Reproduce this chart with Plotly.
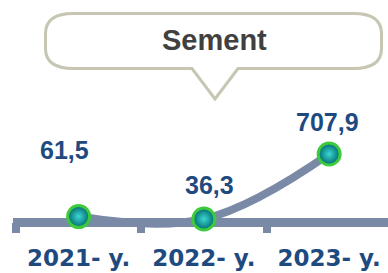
import plotly.graph_objects as go

categories = ["2021- y.", "2022- y.", "2023- y."]
values = [61.5, 36.3, 707.9]
value_labels = ["61,5", "36,3", "707,9"]
title_text = "Sement"

W, H = 388, 273
L_M, R_M, T_M, B_M = 13, 0, 100, 23

LINE_COLOR = "#7A8AA6"
TEXT_BLUE = "#1F4A80"

fig = go.Figure()

fig.add_trace(go.Scatter(
    x=categories, y=values, mode="lines",
    line=dict(color=LINE_COLOR, width=8, shape="spline", smoothing=1.1),
    hoverinfo="skip", showlegend=False,
))
fig.add_trace(go.Scatter(
    x=categories, y=values, mode="markers",
    marker=dict(size=22, color="#00686F",
                gradient=dict(type="radial", color="#3CD8D2"),
                line=dict(color="#3DCB3D", width=3)),
    cliponaxis=False, hoverinfo="skip", showlegend=False,
))

label_dx = [-14, 6, -2]
label_dy = [67, 34, 32]
for c, v, t, dx, dy in zip(categories, values, value_labels, label_dx, label_dy):
    fig.add_annotation(x=c, y=v, text=t, showarrow=False, xshift=dx, yshift=dy,
                       xanchor="center", yanchor="middle",
                       font=dict(family="Liberation Sans, Arial",
                                 size=25, color=TEXT_BLUE, weight="bold"))

def px(xp):
    return (xp - L_M) / (W - L_M - R_M)

def py(yp):
    return (H - B_M - yp) / (H - T_M - B_M)

x0, x1, y0, y1 = 45.5, 381.5, 13.5, 68.5
rx, ry = 28, 20
tipx, tipy, hw = 215, 99, 23
pts = [
    ("M", [(x0 + rx, y0)]),
    ("L", [(x1 - rx, y0)]),
    ("Q", [(x1, y0), (x1, y0 + ry)]),
    ("L", [(x1, y1 - ry)]),
    ("Q", [(x1, y1), (x1 - rx, y1)]),
    ("L", [(tipx + hw, y1)]),
    ("L", [(tipx, tipy)]),
    ("L", [(tipx - hw, y1)]),
    ("L", [(x0 + rx, y1)]),
    ("Q", [(x0, y1), (x0, y1 - ry)]),
    ("L", [(x0, y0 + ry)]),
    ("Q", [(x0, y0), (x0 + rx, y0)]),
]
path = " ".join(cmd + " " + " ".join(f"{px(a):.5f},{py(b):.5f}" for a, b in p) for cmd, p in pts) + " Z"
fig.add_shape(type="path", path=path, xref="paper", yref="paper",
              line=dict(color="#C6C6B2", width=3), fillcolor="white", layer="above")
fig.add_annotation(x=px(215), y=py(40), xref="paper", yref="paper", text=title_text,
                   xanchor="center", yanchor="middle",
                   showarrow=False, font=dict(family="Liberation Sans, Arial", size=29,
                                              color="#404040", weight="bold"))

scale = (222.5 - 154) / 707.9
y_lo = -(H - B_M - 222.5) / scale
y_hi = (222.5 - T_M) / scale

fig.update_layout(
    width=W, height=H, autosize=False,
    margin=dict(l=L_M, r=R_M, t=T_M, b=B_M, pad=0),
    paper_bgcolor="white", plot_bgcolor="white",
    xaxis=dict(type="category", range=[-0.524, 2.47], anchor="free",
               position=(H - 222.5) / H,
               showline=False, showgrid=False, zeroline=False,
               ticks="outside", tickson="boundaries", ticklen=10, tickwidth=8,
               tickcolor=LINE_COLOR, ticklabelstandoff=20,
               tickfont=dict(family="DejaVu Sans, Arial", size=23, color=TEXT_BLUE, weight="bold")),
    yaxis=dict(range=[y_lo, y_hi], showgrid=False, showticklabels=False, ticks="",
               showline=False, zeroline=True, zerolinecolor=LINE_COLOR, zerolinewidth=9),
    showlegend=False,
)

fig.write_html("out.html", config={"displayModeBar": False},
               post_script="document.body.style.margin='0';")
